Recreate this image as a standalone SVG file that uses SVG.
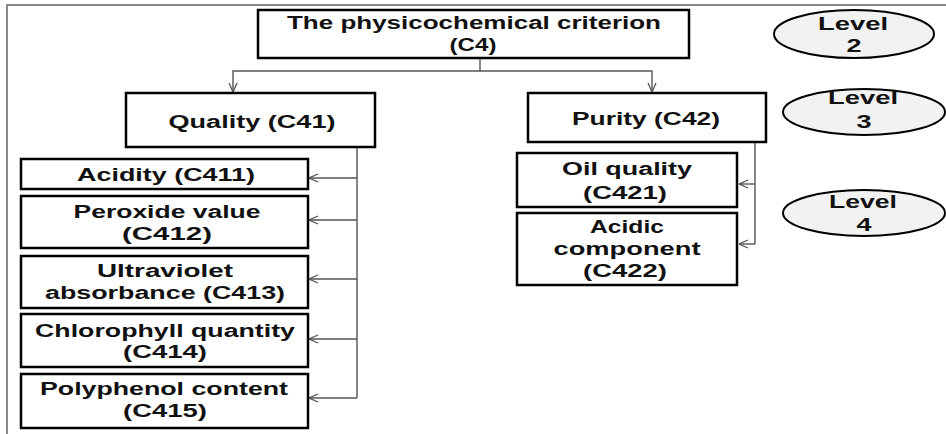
<svg xmlns="http://www.w3.org/2000/svg" width="946" height="434" viewBox="0 0 946 434">
<style>
.bx{fill:#fff;stroke:#000;stroke-width:2.5}
.el{fill:#f2f2f2;stroke:#000;stroke-width:2}
.t{font-family:"Liberation Sans",Arial,sans-serif;font-weight:bold;font-size:18px;fill:#111;text-anchor:middle}
.cn{fill:none;stroke:#555;stroke-width:1.4}
.fr{fill:none;stroke:#666;stroke-width:1.5}
</style>
<defs>
<marker id="arr" viewBox="0 0 10 10" refX="10" refY="5" markerWidth="10" markerHeight="10" markerUnits="userSpaceOnUse" orient="auto">
<path d="M1,1 L10,5 L1,9" fill="none" stroke="#555" stroke-width="1.3"/>
</marker>
</defs>
<rect width="946" height="434" fill="#fff"/>
<path class="fr" d="M7,434 V5 H946"/>
<g id="connectors">
<path class="cn" d="M480,58 V71 H233 V92" marker-end="url(#arr)"/>
<path class="cn" d="M480,71 H652 V92" marker-end="url(#arr)"/>
<path class="cn" d="M357,147 V398"/>
<path class="cn" d="M357,178 H309" marker-end="url(#arr)"/>
<path class="cn" d="M357,220 H309" marker-end="url(#arr)"/>
<path class="cn" d="M357,279 H309" marker-end="url(#arr)"/>
<path class="cn" d="M357,339 H309" marker-end="url(#arr)"/>
<path class="cn" d="M357,398 H309" marker-end="url(#arr)"/>
<path class="cn" d="M755,142 V244"/>
<path class="cn" d="M755,184 H739" marker-end="url(#arr)"/>
<path class="cn" d="M755,244 H739" marker-end="url(#arr)"/>
</g>
<g id="C4">
<rect class="bx" x="258" y="10" width="431" height="48"/>
<text class="t" x="474" y="29" textLength="374" lengthAdjust="spacingAndGlyphs">The physicochemical criterion</text>
<text class="t" x="473" y="51" textLength="47" lengthAdjust="spacingAndGlyphs">(C4)</text>
</g>
<g id="C41">
<rect class="bx" x="126" y="93" width="249" height="54"/>
<text class="t" x="252" y="128" textLength="167" lengthAdjust="spacingAndGlyphs">Quality (C41)</text>
</g>
<g id="C42">
<rect class="bx" x="528" y="93" width="238" height="49"/>
<text class="t" x="646" y="125" textLength="148" lengthAdjust="spacingAndGlyphs">Purity (C42)</text>
</g>
<g id="C411">
<rect class="bx" x="21" y="159" width="287" height="30"/>
<text class="t" x="166" y="181" textLength="178" lengthAdjust="spacingAndGlyphs">Acidity (C411)</text>
</g>
<g id="C412">
<rect class="bx" x="21" y="196" width="287" height="52"/>
<text class="t" x="167" y="218" textLength="187" lengthAdjust="spacingAndGlyphs">Peroxide value</text>
<text class="t" x="167" y="240" textLength="90" lengthAdjust="spacingAndGlyphs">(C412)</text>
</g>
<g id="C413">
<rect class="bx" x="21" y="256" width="287" height="52"/>
<text class="t" x="165" y="277" textLength="136" lengthAdjust="spacingAndGlyphs">Ultraviolet</text>
<text class="t" x="165" y="299" textLength="240" lengthAdjust="spacingAndGlyphs">absorbance (C413)</text>
</g>
<g id="C414">
<rect class="bx" x="21" y="314" width="287" height="53"/>
<text class="t" x="165" y="337" textLength="260" lengthAdjust="spacingAndGlyphs">Chlorophyll quantity</text>
<text class="t" x="165" y="358" textLength="84" lengthAdjust="spacingAndGlyphs">(C414)</text>
</g>
<g id="C415">
<rect class="bx" x="21" y="374" width="287" height="54"/>
<text class="t" x="164" y="395" textLength="248" lengthAdjust="spacingAndGlyphs">Polyphenol content</text>
<text class="t" x="165" y="417" textLength="84" lengthAdjust="spacingAndGlyphs">(C415)</text>
</g>
<g id="C421">
<rect class="bx" x="517" y="153" width="220" height="54"/>
<text class="t" x="627" y="175" textLength="130" lengthAdjust="spacingAndGlyphs">Oil quality</text>
<text class="t" x="625" y="199" textLength="84" lengthAdjust="spacingAndGlyphs">(C421)</text>
</g>
<g id="C422">
<rect class="bx" x="517" y="213" width="220" height="72"/>
<text class="t" x="627" y="233" textLength="74" lengthAdjust="spacingAndGlyphs">Acidic</text>
<text class="t" x="627" y="255" textLength="147" lengthAdjust="spacingAndGlyphs">component</text>
<text class="t" x="625" y="277" textLength="84" lengthAdjust="spacingAndGlyphs">(C422)</text>
</g>
<g id="level2">
<ellipse class="el" cx="854" cy="34" rx="80" ry="24"/>
<text class="t" x="853" y="30" textLength="70" lengthAdjust="spacingAndGlyphs">Level</text>
<text class="t" x="854" y="52" textLength="15" lengthAdjust="spacingAndGlyphs">2</text>
</g>
<g id="level3">
<ellipse class="el" cx="864" cy="112" rx="81" ry="23"/>
<text class="t" x="863" y="104" textLength="70" lengthAdjust="spacingAndGlyphs">Level</text>
<text class="t" x="864" y="128" textLength="15" lengthAdjust="spacingAndGlyphs">3</text>
</g>
<g id="level4">
<ellipse class="el" cx="864" cy="213" rx="81" ry="23"/>
<text class="t" x="863" y="208" textLength="68" lengthAdjust="spacingAndGlyphs">Level</text>
<text class="t" x="864" y="231" textLength="15" lengthAdjust="spacingAndGlyphs">4</text>
</g>
</svg>
